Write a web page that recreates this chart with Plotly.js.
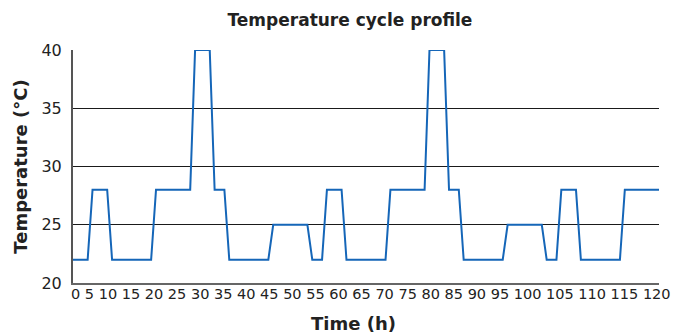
<!DOCTYPE html>
<html>
<head>
<meta charset="utf-8">
<script src="https://cdn.plot.ly/plotly-3.0.1.min.js"></script>
<style>
  html, body { margin: 0; padding: 0; background: #fff; }
  #chart { width: 673px; height: 333px; }
</style>
</head>
<body>
<div id="chart"></div>
<script>
// Time breakpoints (hours) of the programmed temperature profile
const timeHours = [0, 3, 4, 7, 8, 16, 17, 24, 25, 28, 29, 31, 32, 40, 41, 48,
                   49, 51, 52, 55, 56, 64, 65, 72, 73, 76, 77, 79, 80, 88, 89, 96,
                   97, 99, 100, 103, 104, 112, 113, 120];
// Set-point temperature (°C) at each breakpoint
const temperatureC = [22, 22, 28, 28, 22, 22, 28, 28, 40, 40, 28, 28, 22, 22, 25, 25,
                      22, 22, 28, 28, 22, 22, 28, 28, 40, 40, 28, 28, 22, 22, 25, 25,
                      22, 22, 28, 28, 22, 22, 28, 28];
// Time-axis labels, written as one running row under the axis
const timeTickLabels = ['0', '5', '10', '15', '20', '25', '30', '35', '40', '45', '50',
                        '55', '60', '65', '70', '75', '80', '85', '90', '95', '100',
                        '105', '110', '115', '120'];
const tempTickValues = [20, 25, 30, 35, 40];

const FONT = 'DejaVu Sans, Verdana, sans-serif';

const trace = {
  x: timeHours,
  y: temperatureC,
  type: 'scatter',
  mode: 'lines',
  line: { color: '#1566b8', width: 2 },
  hoverinfo: 'x+y'
};

const layout = {
  width: 673,
  height: 333,
  margin: { l: 73, r: 14, t: 50, b: 50 },
  paper_bgcolor: '#ffffff',
  plot_bgcolor: '#ffffff',
  showlegend: false,
  font: { family: FONT, color: '#222222' },
  title: {
    text: '<b>Temperature cycle profile</b>',
    font: { family: FONT, size: 17, color: '#222222' },
    x: 0.52, xanchor: 'center', xref: 'container',
    y: 0.94, yanchor: 'middle', yref: 'container'
  },
  xaxis: {
    range: [0, 120],
    showticklabels: false,
    ticks: '',
    showgrid: false,
    zeroline: false,
    showline: true,
    linecolor: '#666666',
    linewidth: 2,
    title: { text: '' }
  },
  yaxis: {
    range: [20, 40],
    tickvals: tempTickValues,
    ticktext: tempTickValues.map(String),
    ticks: '',
    ticklabelstandoff: 6,
    tickfont: { family: FONT, size: 16, color: '#222222' },
    showgrid: true,
    gridcolor: '#1a1a1a',
    gridwidth: 1,
    zeroline: false,
    showline: true,
    linecolor: '#555555',
    linewidth: 2,
    title: {
      text: '<b>Temperature (°C)</b>',
      font: { family: FONT, size: 18, color: '#222222' },
      standoff: 9
    }
  },
  annotations: [
    {
      // time labels
      text: timeTickLabels.join(' '),
      xref: 'paper', yref: 'paper',
      x: 0.5077, y: 0,
      xanchor: 'center', yanchor: 'middle',
      yshift: -11,
      showarrow: false,
      font: { family: FONT, size: 14.5, color: '#222222' }
    },
    {
      text: '<b>Time (h)</b>',
      xref: 'paper', yref: 'paper',
      x: 0.479, y: 0,
      xanchor: 'center', yanchor: 'middle',
      yshift: -40,
      showarrow: false,
      font: { family: FONT, size: 18, color: '#222222' }
    }
  ]
};

Plotly.newPlot('chart', [trace], layout, { displayModeBar: false, responsive: false });
</script>
</body>
</html>
